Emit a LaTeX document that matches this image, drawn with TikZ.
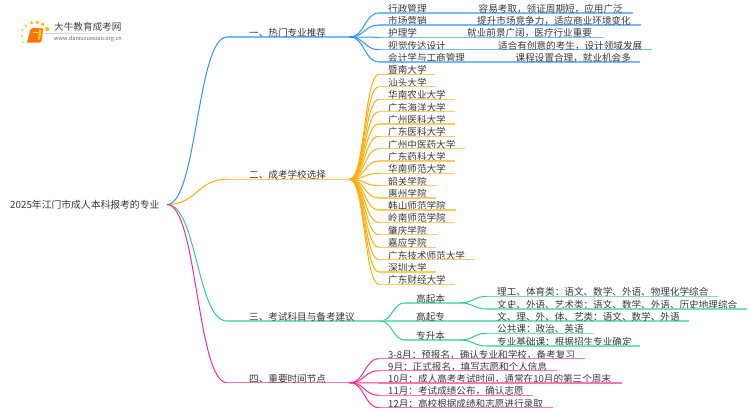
\documentclass[tikz,border=0pt]{standalone}
\usepackage{fontspec}
\setmainfont{Noto Sans CJK SC}
\usetikzlibrary{calc}
\definecolor{cb}{HTML}{2E93FF}
\definecolor{co}{HTML}{FFAE0D}
\definecolor{cg}{HTML}{2FD08E}
\definecolor{cp}{HTML}{FF2A8A}
\definecolor{tx}{HTML}{3A3A3A}
\tikzset{
  lab/.style={anchor=west,inner sep=0pt,text=tx,font=\fontsize{9.6}{10}\selectfont},
  lnk/.style={line width=1pt},
  under/.style={line width=1.3pt},
}
% \curvelink{colour}{from}{to}: S-curve with control points at half the width
\newcommand{\curvelink}[3]{%
  \draw[lnk,#1] let \p1=(#2),\p2=(#3),\n1={(\x2-\x1)*0.5} in
    (#2) .. controls (\x1+\n1,\y1) and (\x2-\n1,\y2) .. (#3);
}
% \leaf{name}{colour}{junction}{y}{xend}{text}
\newcommand{\leaf}[6]{%
  \node[lab] (#1) at (388,#4-4.2) {#6};
  \coordinate (#1s) at (379,#4);
  \coordinate (#1e) at (#5,#4);
  \curvelink{#2}{#3}{#1s}
  \draw[under,#2!65] (#1s) -- (#1e);
}
\begin{document}
\begin{tikzpicture}[x=1pt,y=-1pt]
\useasboundingbox (0,0) rectangle (750,410);
\fill[white] (0,0) rectangle (750,410);
% logo
\foreach \a/\b/\r in {22.7/30/1,22/36/1,23.3/42.3/0.8,26/25.7/1.2,31.7/22.7/1.7,37.3/22.3/1.9,42.7/24.3/1.8,47.3/29/2.1}
  \fill[co!80!yellow] (\a,\b) circle (\r);
\fill[orange!90!red] (27,42.5) -- (39,42.5) .. controls (41,42.5) and (41.5,41) .. (42,39) -- (43,28.5) -- (33,28) .. controls (30.5,28) and (30,30) .. (29.5,33) -- cycle;
\fill[co!55!yellow] (39,30) -- (41.5,30) -- (40.3,39.5) -- (38,39.5) -- cycle;
\fill[co!40!white] (33,31.5) rectangle (38,32.5);
\shade[left color=black!20,right color=white] (45,33) rectangle (133,33.5);
\node[anchor=west,inner sep=0pt,text=black!75,font=\fontsize{9.6}{10}\selectfont] (logot) at (54,27) {大牛教育成考网};
\node[anchor=west,inner sep=0pt,text=black!60,font=\fontsize{5.6}{6}\selectfont] (logou) at (54,38.5) {www.daniuxuexiao.org.cn};
% root
\node[lab,font=\fontsize{9.8}{10}\selectfont] (root) at (10,204.7) {2025年江门市成人本科报考的专业};
\coordinate (r) at (167,204.5);
\foreach \nm/\y/\c/\e in {a/37/cb/350,b/179.3/co/350,c/321/cg/380,d/382.7/cp/350}{
  \coordinate (\nm st) at (227,\y);
  \coordinate (\nm) at (\e,\y);
  \curvelink{\c}{r}{\nm st}
  \draw[under,\c!65] (\nm st) -- (\nm);
}
\fill[cb] (a) circle (1.2);\fill[co] (b) circle (1.2);\fill[cp] (d) circle (1.2);
\node[lab] (at) at (249,32.8) {一、热门专业推荐};
\node[lab] (bt) at (249,174.8) {二、成考学校选择};
\node[lab] (ct) at (249,316.8) {三、考试科目与备考建议};
\node[lab] (dt) at (249,378.5) {四、重要时间节点};
% blue
\leaf{a1}{cb}{a}{13}{633}{行政管理}
\leaf{a2}{cb}{a}{25}{641}{市场营销}
\leaf{a3}{cb}{a}{37.3}{603}{护理学}
\leaf{a4}{cb}{a}{49.7}{652}{视觉传达设计}
\leaf{a5}{cb}{a}{62}{640}{会计学与工商管理}
\node[lab] (a1d) at (478.5,8.8) {容易考取，领证周期短，应用广泛};
\node[lab] (a2d) at (477,20.8) {提升市场竞争力，适应商业环境变化};
\node[lab] (a3d) at (467,33.1) {就业前景广阔，医疗行业重要};
\node[lab] (a4d) at (498,45.5) {适合有创意的考生，设计领域发展};
\node[lab] (a5d) at (515.5,57.8) {课程设置合理，就业机会多};
% orange
\leaf{b1}{co}{b}{74.3}{435}{暨南大学}
\leaf{b2}{co}{b}{86.7}{436}{汕头大学}
\leaf{b3}{co}{b}{99.3}{455}{华南农业大学}
\leaf{b4}{co}{b}{111.7}{455}{广东海洋大学}
\leaf{b5}{co}{b}{124}{455}{广州医科大学}
\leaf{b6}{co}{b}{136.3}{455}{广东医科大学}
\leaf{b7}{co}{b}{148.7}{465}{广州中医药大学}
\leaf{b8}{co}{b}{161}{455}{广东药科大学}
\leaf{b9}{co}{b}{173.3}{455}{华南师范大学}
\leaf{b10}{co}{b}{185.7}{437}{韶关学院}
\leaf{b11}{co}{b}{198}{436}{惠州学院}
\leaf{b12}{co}{b}{210}{456}{韩山师范学院}
\leaf{b13}{co}{b}{222.3}{455}{岭南师范学院}
\leaf{b14}{co}{b}{234.7}{437}{肇庆学院}
\leaf{b15}{co}{b}{247.3}{436}{嘉应学院}
\leaf{b16}{co}{b}{259.7}{474}{广东技术师范大学}
\leaf{b17}{co}{b}{272}{436}{深圳大学}
\leaf{b18}{co}{b}{284.3}{455}{广东财经大学}
% green
\coordinate (c1s) at (405,302.9);\coordinate (c1) at (460,302.9);
\coordinate (c2e) at (689,321);
\coordinate (c3s) at (405,340);\coordinate (c3) at (460,340);
\curvelink{cg}{c}{c1s}
\draw[under,cg!65] (c1s) -- (c1);
\draw[under,cg!65] (c) -- (c2e);
\curvelink{cg}{c}{c3s}
\draw[under,cg!65] (c3s) -- (c3);
\node[lab] (c1t) at (416,298.5) {高起本};
\node[lab] (c2t) at (416,316.8) {高起专};
\node[lab] (c3t) at (416,335.8) {专升本};
\node[lab] (c2d) at (497,316.8) {文、理、外、体、艺类：语文、数学、外语};
\foreach \nm/\j/\y/\e/\t in {c11/c1/296.3/718/{理工、体育类：语文、数学、外语、物理化学综合},c12/c1/309/747/{文史、外语、艺术类：语文、数学、外语、历史地理综合},c31/c3/333.3/593/{公共课：政治、英语},c32/c3/346/640/{专业基础课：根据招生专业确定}}{
  \node[lab] (\nm) at (497,\y-4.2) {\t};
  \coordinate (\nm s) at (487,\y);
  \coordinate (\nm e) at (\e,\y);
  \curvelink{cg}{\j}{\nm s}
  \draw[under,cg!65] (\nm s) -- (\nm e);
}
% pink
\leaf{d1}{cp}{d}{358.7}{585}{3-8月：预报名，确认专业和学校，备考复习}
\leaf{d2}{cp}{d}{370.7}{557}{9月：正式报名，填写志愿和个人信息}
\leaf{d3}{cp}{d}{383}{622}{10月：成人高考考试时间，通常在10月的第三个周末}
\leaf{d4}{cp}{d}{395.3}{533}{11月：考试成绩公布，确认志愿}
\leaf{d5}{cp}{d}{407.7}{553}{12月：高校根据成绩和志愿进行录取}
\end{tikzpicture}
\end{document}
